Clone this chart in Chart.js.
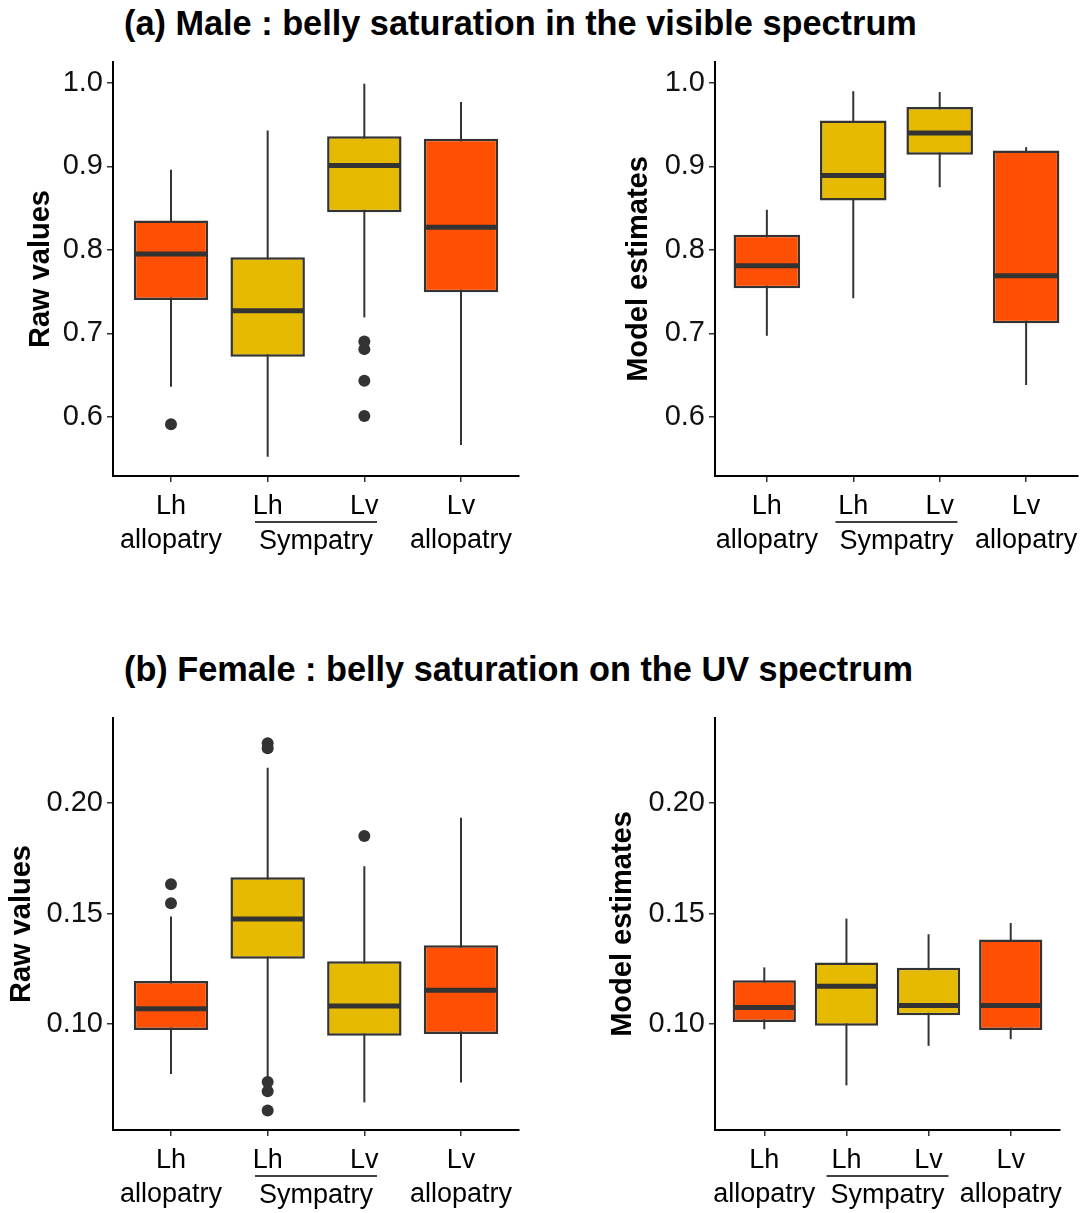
<!DOCTYPE html>
<html>
<head>
<meta charset="utf-8">
<script src="https://cdn.jsdelivr.net/npm/chart.js@4.4.1/dist/chart.umd.min.js"></script>
<style>
  body { margin: 0; background: #fff; width: 1086px; height: 1213px; position: relative; overflow: hidden;
         font-family: "Liberation Sans", Arial, sans-serif; }
  .title { position: absolute; left: 124px; font-weight: bold; font-size: 34.3px; line-height: 34px;
           white-space: nowrap; color: #000; }
  canvas { position: absolute; }
</style>
</head>
<body>
<div class="title" style="top:6px">(a) Male : belly saturation in the visible spectrum</div>
<div class="title" style="top:652px">(b) Female : belly saturation on the UV spectrum</div>
<canvas id="maleRaw" width="540" height="540" style="left:0;top:40px"></canvas>
<canvas id="maleModel" width="546" height="540" style="left:540px;top:40px"></canvas>
<canvas id="femaleRaw" width="540" height="523" style="left:0;top:690px"></canvas>
<canvas id="femaleModel" width="546" height="523" style="left:540px;top:690px"></canvas>
<script>
// groups (x axis)
const groups = ['Lh allopatry', 'Lh sympatry', 'Lv sympatry', 'Lv allopatry'];
const tickTop = ['Lh', 'Lh', 'Lv', 'Lv'];
const tickBottom = ['allopatry', '', '', 'allopatry'];

const maleTicks = [0.6, 0.7, 0.8, 0.9, 1.0];
const femaleTicks = [0.10, 0.15, 0.20];

// (a) male, raw values
const maleRawLow  = [0.636, 0.552, 0.719, 0.566];
const maleRawQ1   = [0.740, 0.672, 0.845, 0.749];
const maleRawMed  = [0.795, 0.727, 0.901, 0.827];
const maleRawQ3   = [0.835, 0.791, 0.936, 0.933];
const maleRawHigh = [0.896, 0.943, 0.999, 0.977];
const maleRawOut  = [[0.591], [], [0.690, 0.681, 0.643, 0.601], []];

// (a) male, model estimates
const maleModLow  = [0.697, 0.742, 0.875, 0.638];
const maleModQ1   = [0.754, 0.859, 0.914, 0.712];
const maleModMed  = [0.781, 0.889, 0.940, 0.769];
const maleModQ3   = [0.818, 0.955, 0.971, 0.919];
const maleModHigh = [0.848, 0.990, 0.989, 0.923];
const maleModOut  = [[], [], [], []];

// (b) female, raw values
const femRawLow  = [0.0774, 0.0755, 0.0645, 0.0735];
const femRawQ1   = [0.0973, 0.1295, 0.0947, 0.0955];
const femRawMed  = [0.1069, 0.1475, 0.1081, 0.1153];
const femRawQ3   = [0.1194, 0.1664, 0.1284, 0.1356];
const femRawHigh = [0.1487, 0.2160, 0.1714, 0.1934];
const femRawOut  = [[0.1632, 0.1546], [0.2271, 0.2248, 0.0737, 0.0695, 0.0608], [0.1851], []];

// (b) female, model estimates
const femModLow  = [0.0976, 0.0722, 0.0901, 0.0931];
const femModQ1   = [0.1009, 0.0992, 0.1039, 0.0973];
const femModMed  = [0.1074, 0.1171, 0.1084, 0.1084];
const femModQ3   = [0.1198, 0.1278, 0.1254, 0.1382];
const femModHigh = [0.1256, 0.1477, 0.1406, 0.1457];
const femModOut  = [[], [], [], []];

const ORANGE = '#FF4F02';
const YELLOW = '#E5BA00';
const groupColors = [ORANGE, YELLOW, YELLOW, ORANGE];
const INK = '#333333';
const FONT = '"Liberation Sans", Arial, sans-serif';

Chart.defaults.font.family = FONT;

// whiskers under the boxes, medians on top, "Sympatry" bracket under the axis
function boxPlugin(low, med, high) {
  return {
    id: 'boxParts',
    beforeDatasetsDraw(chart) {
      const ctx = chart.ctx, y = chart.scales.y;
      const meta = chart.getDatasetMeta(0);
      ctx.save();
      ctx.strokeStyle = INK;
      ctx.lineWidth = 2;
      meta.data.forEach((bar, i) => {
        ctx.beginPath();
        ctx.moveTo(bar.x, y.getPixelForValue(low[i]));
        ctx.lineTo(bar.x, y.getPixelForValue(high[i]));
        ctx.stroke();
      });
      ctx.restore();
    },
    afterDatasetsDraw(chart) {
      const ctx = chart.ctx, y = chart.scales.y;
      const meta = chart.getDatasetMeta(0);
      ctx.save();
      ctx.strokeStyle = INK;
      ctx.lineWidth = 5;
      meta.data.forEach((bar, i) => {
        const py = y.getPixelForValue(med[i]);
        ctx.beginPath();
        ctx.moveTo(bar.x - bar.width / 2 + 1, py);
        ctx.lineTo(bar.x + bar.width / 2 - 1, py);
        ctx.stroke();
      });
      ctx.restore();
    },
    afterDraw(chart) {
      const ctx = chart.ctx, xs = chart.scales.x;
      const mid = (xs.getPixelForValue(2) + xs.getPixelForValue(3)) / 2;
      ctx.save();
      ctx.strokeStyle = '#000';
      ctx.lineWidth = 1.5;
      ctx.beginPath();
      ctx.moveTo(mid - 61, xs.top + 46);
      ctx.lineTo(mid + 61, xs.top + 46);
      ctx.stroke();
      ctx.fillStyle = '#000';
      ctx.font = '27px ' + FONT;
      ctx.textAlign = 'center';
      ctx.textBaseline = 'middle';
      ctx.fillText('Sympatry', mid, xs.top + 66);
      ctx.restore();
    }
  };
}

function makePanel(id, q1, q3, low, med, high, outliers, yTicks, decimals, yMin, yMax, yTitle, lay) {
  const boxes = groups.map((g, i) => ({ x: i + 1, y: [q1[i], q3[i]] }));
  const points = [];
  outliers.forEach((arr, i) => arr.forEach(v => points.push({ x: i + 1, y: v })));

  new Chart(document.getElementById(id), {
    type: 'bar',
    data: {
      datasets: [
        {
          type: 'bar',
          label: yTitle,
          data: boxes,
          backgroundColor: groupColors,
          borderColor: INK,
          borderWidth: 2.5,
          borderSkipped: false,
          barPercentage: 0.77,
          categoryPercentage: 1,
          order: 1
        },
        {
          type: 'scatter',
          label: 'outliers',
          data: points,
          pointRadius: 6,
          pointBackgroundColor: INK,
          pointBorderWidth: 0,
          order: 0
        }
      ]
    },
    options: {
      responsive: false,
      animation: false,
      devicePixelRatio: 1,
      events: [],
      layout: { padding: { left: lay.padLeft, right: lay.padRight, top: lay.padTop, bottom: 0 } },
      plugins: { legend: { display: false }, tooltip: { enabled: false } },
      scales: {
        x: {
          type: 'linear',
          min: 0.4,
          max: 4.6,
          offset: false,
          afterBuildTicks: s => { s.ticks = groups.map((g, i) => ({ value: i + 1 })); },
          afterFit: s => { s.height = lay.xHeight; },
          ticks: {
            autoSkip: false,
            maxRotation: 0,
            padding: 8,
            color: '#000',
            font: { size: 27, lineHeight: 1.26 },
            callback: v => {
              const k = Math.round(v) - 1;
              return [tickTop[k], tickBottom[k]];
            }
          },
          grid: { offset: false, drawOnChartArea: false, drawTicks: true, tickLength: 6, color: INK, lineWidth: 1.5 },
          border: { display: true, color: '#000', width: 2 }
        },
        y: {
          min: yMin,
          max: yMax,
          afterBuildTicks: s => { s.ticks = yTicks.map(v => ({ value: v })); },
          afterFit: s => { s.width = lay.yWidth; },
          ticks: {
            padding: 4,
            color: '#111',
            font: { size: 29 },
            callback: v => Number(v).toFixed(decimals)
          },
          grid: { drawOnChartArea: false, drawTicks: true, tickLength: 6, color: INK, lineWidth: 1.5 },
          border: { display: true, color: '#000', width: 2 },
          title: {
            display: true,
            text: yTitle,
            color: '#000',
            font: { size: 29, weight: 'bold' },
            padding: { top: lay.titlePad, bottom: 0 }
          }
        }
      }
    },
    plugins: [boxPlugin(low, med, high)]
  });
}

makePanel('maleRaw', maleRawQ1, maleRawQ3, maleRawLow, maleRawMed, maleRawHigh, maleRawOut,
  maleTicks, 1, 0.529, 1.025, 'Raw values',
  { padLeft: 0, padRight: 21, padTop: 22, yWidth: 113, xHeight: 104, titlePad: 24 });

makePanel('maleModel', maleModQ1, maleModQ3, maleModLow, maleModMed, maleModHigh, maleModOut,
  maleTicks, 1, 0.529, 1.025, 'Model estimates',
  { padLeft: 60, padRight: 6, padTop: 22, yWidth: 115, xHeight: 104, titlePad: 22 });

makePanel('femaleRaw', femRawQ1, femRawQ3, femRawLow, femRawMed, femRawHigh, femRawOut,
  femaleTicks, 2, 0.052, 0.2385, 'Raw values',
  { padLeft: 0, padRight: 21, padTop: 28, yWidth: 113, xHeight: 83, titlePad: 5 });

makePanel('femaleModel', femModQ1, femModQ3, femModLow, femModMed, femModHigh, femModOut,
  femaleTicks, 2, 0.052, 0.2385, 'Model estimates',
  { padLeft: 60, padRight: 26, padTop: 28, yWidth: 115, xHeight: 83, titlePad: 6 });
</script>
</body>
</html>
